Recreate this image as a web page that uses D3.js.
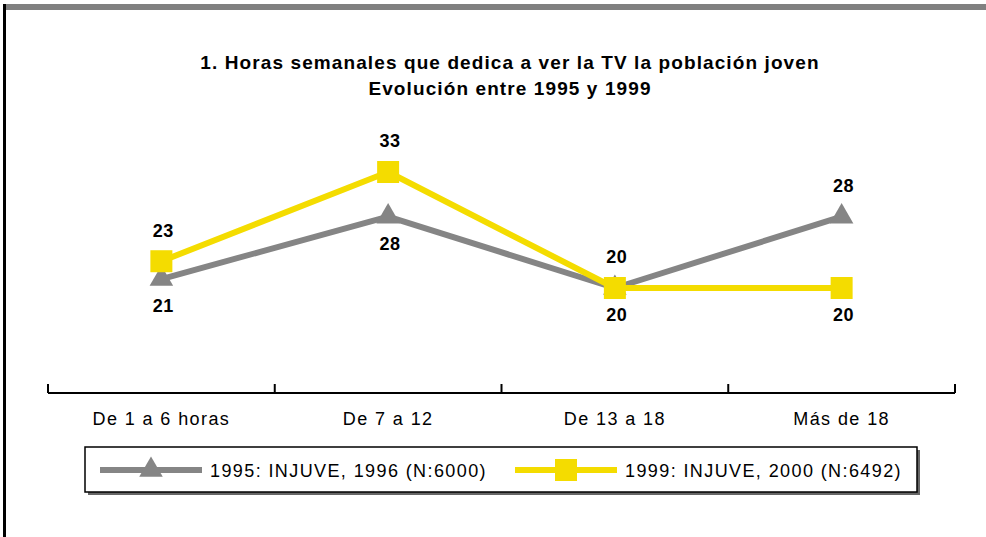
<!DOCTYPE html>
<html>
<head>
<meta charset="utf-8">
<script src="https://cdn.jsdelivr.net/npm/d3@7"></script>
<style>
  body { margin: 0; background: #fff; }
  svg { display: block; font-family: "Liberation Sans", Arial, sans-serif; }
</style>
</head>
<body>
<svg class="chart_svg" width="986" height="537"></svg>
<script>
// data
var categories = ["De 1 a 6 horas", "De 7 a 12", "De 13 a 18", "Más de 18"];
var series1995 = [21, 28, 20, 28];
var series1999 = [23, 33, 20, 20];
var seriesNames = ["1995: INJUVE, 1996 (N:6000)", "1999: INJUVE, 2000 (N:6492)"];
var titleLines = ["1. Horas semanales que dedica a ver la TV la población joven", "Evolución entre 1995 y 1999"];

var svg = d3.select("svg.chart_svg");
var grayCol = "#858585";
var yellowCol = "#f4dc00";

// frame: gray bar on top, black rule on the left
svg.append("rect").attr("x", 3).attr("y", 4).attr("width", 983).attr("height", 6).attr("fill", "#808080");
svg.append("rect").attr("x", 3).attr("y", 4).attr("width", 3).attr("height", 533).attr("fill", "#000");

// title
svg.selectAll("text.title")
  .data(titleLines)
  .enter()
  .append("text")
  .attr("class", "title")
  .attr("x", 510)
  .attr("y", function(d, i) { return 69 + i * 26; })
  .attr("text-anchor", "middle")
  .attr("font-size", 19)
  .attr("font-weight", "bold")
  .attr("letter-spacing", 1.1)
  .text(function(d) { return d; });

var x = d3.scaleBand().domain(categories).range([48, 955]);
var y = d3.scaleLinear().domain([20, 33]).range([288, 172]);
var cx = function(d, i) { return x(categories[i]) + x.bandwidth() / 2; };

// axis: baseline, upward ticks at band edges, labels centred in bands
var axisY = 393;
svg.append("line")
  .attr("x1", x.range()[0]).attr("x2", x.range()[1])
  .attr("y1", axisY).attr("y2", axisY)
  .attr("stroke", "#000").attr("stroke-width", 2);

var edges = d3.range(categories.length + 1).map(function(i) { return x.range()[0] + i * x.step(); });
svg.selectAll("line.tick")
  .data(edges)
  .enter()
  .append("line")
  .attr("class", "tick")
  .attr("x1", function(d) { return d; }).attr("x2", function(d) { return d; })
  .attr("y1", axisY).attr("y2", axisY - 9)
  .attr("stroke", "#000").attr("stroke-width", 2);

svg.selectAll("text.cat")
  .data(categories)
  .enter()
  .append("text")
  .attr("class", "cat")
  .attr("x", function(d) { return x(d) + x.bandwidth() / 2; })
  .attr("y", 425)
  .attr("text-anchor", "middle")
  .attr("font-size", 18)
  .attr("letter-spacing", 1.4)
  .text(function(d) { return d; });

var line = d3.line()
  .x(cx)
  .y(function(d) { return y(d); });

var triangle = d3.symbol().type(d3.symbolTriangle).size(240);
var square = d3.symbol().type(d3.symbolSquare).size(484);

function drawSeries(values, other, color, symbol, onTopWhenTied) {
  svg.append("path")
    .attr("d", line(values))
    .attr("fill", "none")
    .attr("stroke", color)
    .attr("stroke-width", 6)
    .attr("stroke-linejoin", "round");

  svg.selectAll(null)
    .data(values)
    .enter()
    .append("path")
    .attr("d", symbol)
    .attr("transform", function(d, i) { return "translate(" + cx(d, i) + "," + y(d) + ")"; })
    .attr("fill", color);

  svg.selectAll(null)
    .data(values)
    .enter()
    .append("text")
    .attr("x", function(d, i) { return cx(d, i) + 2; })
    .attr("y", function(d, i) {
      var above = d > other[i] || (d === other[i] && onTopWhenTied);
      return above ? y(d) - 31 : y(d) + 27;
    })
    .attr("dy", "0.35em")
    .attr("text-anchor", "middle")
    .attr("font-size", 18)
    .attr("font-weight", "bold")
    .attr("letter-spacing", 0.5)
    .text(function(d) { return d; });
}

drawSeries(series1995, series1999, grayCol, triangle, false);
drawSeries(series1999, series1995, yellowCol, square, true);

// legend box with shadow
var lg = svg.append("g");
lg.append("rect").attr("x", 88).attr("y", 450).attr("width", 832).attr("height", 45).attr("fill", "#666");
lg.append("rect").attr("x", 85).attr("y", 447).attr("width", 832).attr("height", 45)
  .attr("fill", "#fff").attr("stroke", "#000").attr("stroke-width", 1.5);

var legendItems = [
  { name: seriesNames[0], color: grayCol, symbol: triangle, x0: 100 },
  { name: seriesNames[1], color: yellowCol, symbol: square, x0: 515 }
];
legendItems.forEach(function(item) {
  lg.append("line")
    .attr("x1", item.x0).attr("x2", item.x0 + 102)
    .attr("y1", 470).attr("y2", 470)
    .attr("stroke", item.color).attr("stroke-width", 6);
  lg.append("path")
    .attr("d", item.symbol)
    .attr("transform", "translate(" + (item.x0 + 51) + ",470)")
    .attr("fill", item.color);
  lg.append("text")
    .attr("x", item.x0 + 110)
    .attr("y", 477)
    .attr("font-size", 18)
    .attr("letter-spacing", 1.4)
    .text(item.name);
});
</script>
</body>
</html>
